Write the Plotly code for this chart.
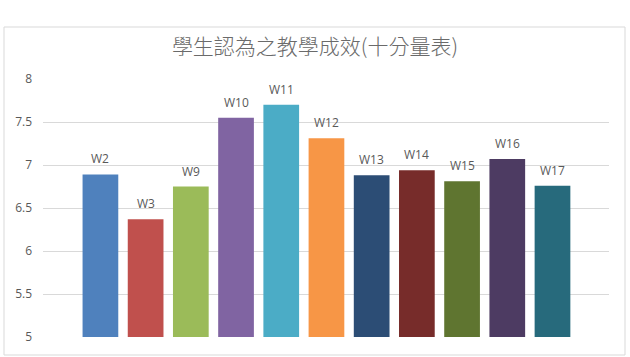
import plotly.graph_objects as go

weeks = ["W2", "W3", "W9", "W10", "W11", "W12", "W13", "W14", "W15", "W16", "W17"]
scores = [6.89, 6.37, 6.75, 7.55, 7.70, 7.31, 6.88, 6.94, 6.81, 7.07, 6.76]
colors = ["#4f81bd", "#c0504d", "#9bbb59", "#8064a2", "#4bacc6", "#f79646",
          "#2c4d75", "#772c2a", "#5f7530", "#4d3b62", "#276a7c"]
y_ticks = [5, 5.5, 6, 6.5, 7, 7.5, 8]
title = "學生認為之教學成效(十分量表)"

xs = list(range(len(weeks)))
fig = go.Figure(go.Bar(
    x=xs, y=scores,
    marker=dict(color=colors, line=dict(width=0)),
    hovertext=weeks,
))

annotations = [
    dict(x=x, y=s, xref="x", yref="y", text=w, showarrow=False,
         yanchor="bottom", xanchor="center", yshift=5,
         font=dict(family="Open Sans", size=12, color="#595959"))
    for x, s, w in zip(xs, scores, weeks)
]

fig.update_layout(
    width=630, height=357,
    margin=dict(l=43, r=21, t=79, b=20),
    paper_bgcolor="white", plot_bgcolor="white",
    bargap=0.21,
    showlegend=False,
    annotations=annotations,
    title=dict(text=title, x=0.5, xanchor="center", y=1 - 47 / 357, yanchor="middle",
               xref="container", yref="container",
               font=dict(family="Noto Sans CJK TC", size=21, color="#6a6a6a", weight=300)),
    xaxis=dict(range=[-1.27, 11.25], showticklabels=False, showgrid=False,
               zeroline=False, showline=False, ticks=""),
    yaxis=dict(range=[5, 8], tickvals=y_ticks, ticktext=[f"{v:g}" for v in y_ticks],
               showgrid=True, gridcolor="#d9d9d9", gridwidth=1, zeroline=False,
               showline=False, ticks="", ticklabelstandoff=10,
               tickfont=dict(family="Open Sans", size=12, color="#595959")),
    shapes=[dict(type="rect", xref="paper", yref="paper",
                 x0=(4 - 43) / 566, x1=(625 - 43) / 566,
                 y0=(337 - 355) / 258, y1=(337 - 27) / 258,
                 line=dict(color="#d9d9d9", width=1), layer="below")],
)

fig.write_html("out.html")
